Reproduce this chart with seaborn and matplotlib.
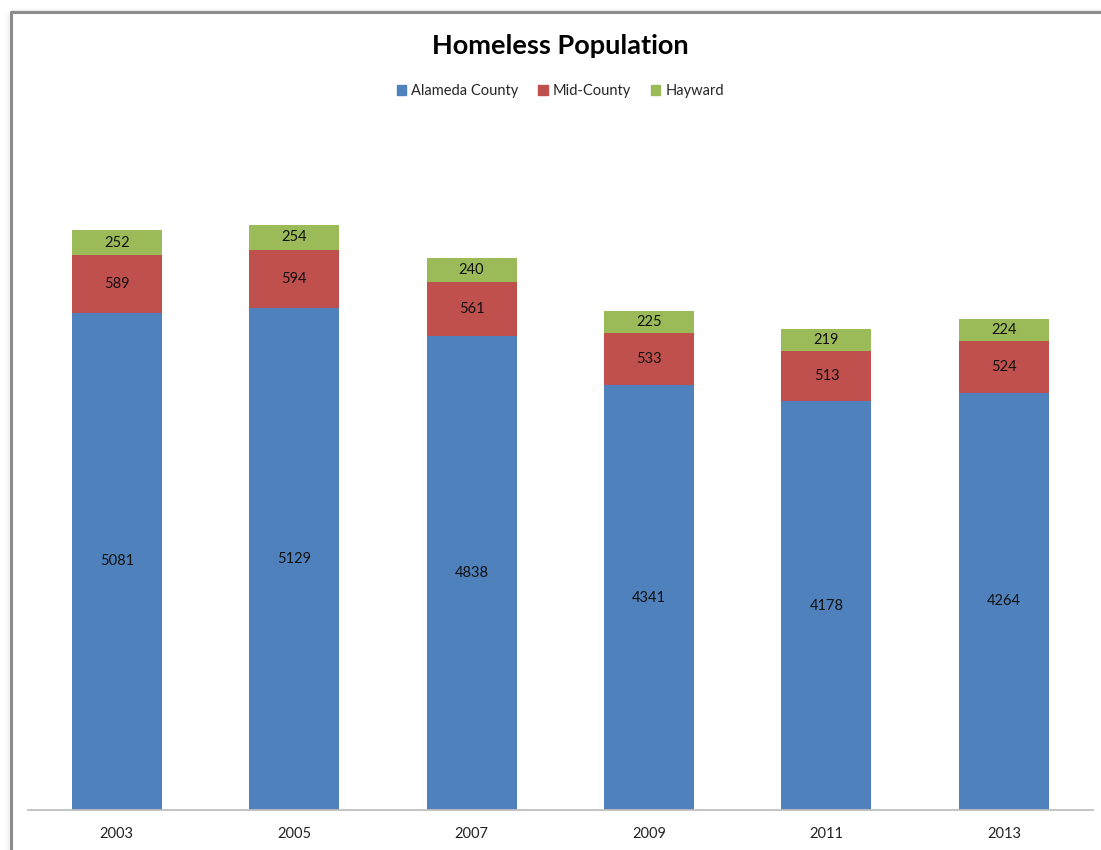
import matplotlib
matplotlib.use("Agg")
import matplotlib.pyplot as plt
from matplotlib.patches import Rectangle
from matplotlib.lines import Line2D
import numpy as np
import pandas as pd
import seaborn as sns

years = ["2003", "2005", "2007", "2009", "2011", "2013"]
alameda = [5081, 5129, 4838, 4341, 4178, 4264]
mid_county = [589, 594, 561, 533, 513, 524]
hayward = [252, 254, 240, 225, 219, 224]

series_names = ["Alameda County", "Mid-County", "Hayward"]
colors = ["#4F81BD", "#C0504D", "#9BBB59"]

sns.set_theme(style="white")
plt.rcParams["font.family"] = ["Lato", "DejaVu Sans"]

df = pd.DataFrame({
    "year": years,
    "alameda": alameda,
    "mid": mid_county,
    "hayward": hayward,
})
df["mid_top"] = df["alameda"] + df["mid"]
df["total"] = df["mid_top"] + df["hayward"]

fig = plt.figure(figsize=(11.01, 8.5), dpi=100)
ax = fig.add_axes([0.0254, 0.0471, 0.967, 0.806])

bar_w = 0.507
# Stack by overlaying cumulative heights, tallest first
sns.barplot(data=df, x="year", y="total", color=colors[2], width=bar_w,
            saturation=1, ax=ax, linewidth=0)
sns.barplot(data=df, x="year", y="mid_top", color=colors[1], width=bar_w,
            saturation=1, ax=ax, linewidth=0)
sns.barplot(data=df, x="year", y="alameda", color=colors[0], width=bar_w,
            saturation=1, ax=ax, linewidth=0)

ax.set_xlim(-0.5, len(years) - 0.5)
ax.set_ylim(0, 7000)
ax.set_xlabel("")
ax.set_ylabel("")
ax.set_yticks([])
for s in ["top", "right", "left"]:
    ax.spines[s].set_visible(False)
ax.spines["bottom"].set_color("#BFBFBF")
ax.spines["bottom"].set_linewidth(1.3)
ax.tick_params(axis="x", length=0, pad=12, labelsize=10.5, labelcolor="#222222")

# Segment value labels
for i in range(len(years)):
    ax.text(i, alameda[i] / 2, str(alameda[i]), ha="center", va="center",
            fontsize=10.5, color="#111111")
    ax.text(i, alameda[i] + mid_county[i] / 2, str(mid_county[i]), ha="center",
            va="center", fontsize=10.5, color="#111111")
    ax.text(i, alameda[i] + mid_county[i] + hayward[i] / 2, str(hayward[i]),
            ha="center", va="center", fontsize=10.5, color="#111111")

# Title and legend
fig.text(0.509, 0.946, "Homeless Population", ha="center", va="center",
         fontsize=19.5, fontweight="bold", color="#000000")
handles = [Rectangle((0, 0), 1, 1, color=c) for c in colors]
fig.legend(handles, series_names, loc="center", bbox_to_anchor=(0.509, 0.893),
           ncol=3, frameon=False, fontsize=10.5, handlelength=0.65,
           handleheight=0.65, handletextpad=0.35, columnspacing=1.35)

# Chart frame with soft shadow on the left and top
fx = 10.5 / 1101
fy = 1 - 11.5 / 850
for k in range(8):
    a = 0.05 * (8 - k) / 8
    fig.add_artist(Rectangle((fx - (k + 1) / 1101, 0), 1 / 1101, fy - 2 / 850,
                             transform=fig.transFigure, color="black",
                             alpha=a, lw=0))
for k in range(3):
    fig.add_artist(Rectangle((fx, fy + k / 850), 1 - fx, 1 / 850,
                             transform=fig.transFigure, color="black",
                             alpha=0.04 * (3 - k) / 3, lw=0))
fig.add_artist(Line2D([fx, fx], [0, fy], transform=fig.transFigure,
                      color="#8C8C8C", lw=2.2))
fig.add_artist(Line2D([fx, 1], [fy, fy], transform=fig.transFigure,
                      color="#8C8C8C", lw=2.2))

fig.savefig("out.png", dpi=100)
